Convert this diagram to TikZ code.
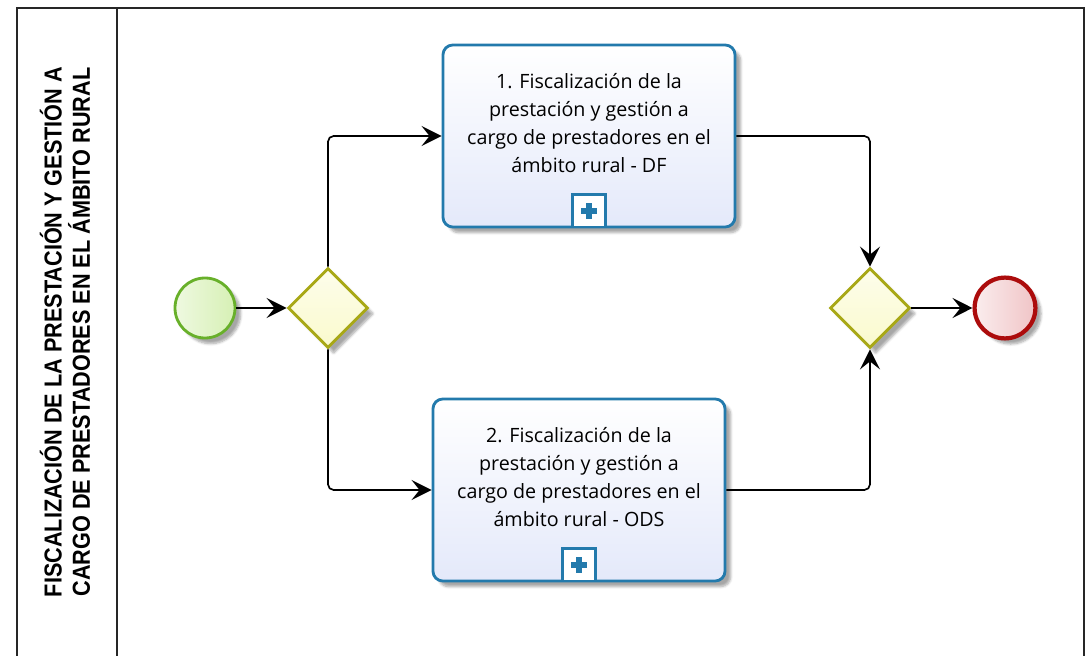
\documentclass[tikz,border=0pt]{standalone}
\usepackage{fontspec}
\usetikzlibrary{arrows.meta,shapes.geometric,shadows.blur}
\newfontfamily\taskfont{Open Sans}
\newfontfamily\lanefont[FakeStretch=0.88]{Liberation Sans Bold}

\definecolor{taskblue}{RGB}{35,122,172}
\definecolor{taskfill}{RGB}{228,233,250}
\definecolor{gateline}{RGB}{168,168,22}
\definecolor{gatefill}{RGB}{250,250,205}
\definecolor{startline}{RGB}{104,176,42}
\definecolor{startfill}{RGB}{214,240,180}
\definecolor{endline}{RGB}{172,12,12}
\definecolor{endfill}{RGB}{240,196,198}

\tikzset{
  shade/.style={blur shadow={shadow xshift=4pt, shadow yshift=-4pt, shadow opacity=35, shadow blur steps=6}},
  task/.style={draw=taskblue, line width=2pt, rounded corners=7pt, minimum width=7.3cm, minimum height=4.55cm, top color=white, bottom color=taskfill, shade},
  tasktext/.style={align=center, font=\taskfont\fontsize{14}{20}\selectfont},
  marker/.style={draw=taskblue, line width=2pt, fill=white, minimum size=0.82cm, inner sep=0pt},
  markerplus/.style={taskblue, line width=4.2pt},
  gate/.style={diamond, draw=gateline, line width=2pt, minimum width=2cm, minimum height=2cm, inner sep=0pt, top color=white!60!gatefill, bottom color=gatefill, shade},
  startev/.style={circle, draw=startline, line width=2pt, minimum size=1.5cm, inner sep=0pt, left color=white!60!startfill, right color=startfill, shade},
  endev/.style={circle, draw=endline, line width=3pt, minimum size=1.52cm, inner sep=0pt, left color=white!70!endfill, right color=endfill, shade},
  flow/.style={line width=1.2pt, rounded corners=4pt, -{Stealth[length=0.5cm, width=0.5cm, inset=0.2cm]}},
  lanetext/.style={align=center, font=\lanefont\fontsize{17.5}{20}\selectfont}
}

\begin{document}
\begin{tikzpicture}[x=0.025cm, y=-0.025cm]
\useasboundingbox (0,0) rectangle (1088,656);

\draw [line width=1pt, black!85] (17,656) -- (17,8) -- (1084,8) -- (1084,656);
\draw [line width=1pt, black!85] (117,8) -- (117,656);
\node [lanetext, rotate=90] (lane) at (65,332) {FISCALIZACIÓN DE LA PRESTACIÓN Y GESTIÓN A\\CARGO DE PRESTADORES EN EL ÁMBITO RURAL};

\node [startev] (st) at (205,308) {};
\node [gate] (gw1) at (328,308) {};
\node [gate] (gw2) at (870,308) {};
\node [endev] (en) at (1005,308) {};

\node [task] (t1) at (589,136) {};
\node [tasktext] (t1text) at (589,123) {1. Fiscalización de la\\prestación y gestión a\\cargo de prestadores en el\\ámbito rural - DF};
\node [marker, anchor=south] (m1) at (t1.south) {};
\draw [markerplus] ([xshift=-0.2cm]m1.center) -- ([xshift=0.2cm]m1.center) ([yshift=-0.2cm]m1.center) -- ([yshift=0.2cm]m1.center);

\node [task] (t2) at (579,490) {};
\node [tasktext] (t2text) at (579,477) {2. Fiscalización de la\\prestación y gestión a\\cargo de prestadores en el\\ámbito rural - ODS};
\node [marker, anchor=south] (m2) at (t2.south) {};
\draw [markerplus] ([xshift=-0.2cm]m2.center) -- ([xshift=0.2cm]m2.center) ([yshift=-0.2cm]m2.center) -- ([yshift=0.2cm]m2.center);

\draw [flow] (st) -- (gw1);
\draw [flow] (gw1.north) |- (t1);
\draw [flow] (gw1.south) |- (t2);
\draw [flow] (t1) -| (gw2.north);
\draw [flow] (t2) -| (gw2.south);
\draw [flow] (gw2) -- (en);

\end{tikzpicture}
\end{document}
